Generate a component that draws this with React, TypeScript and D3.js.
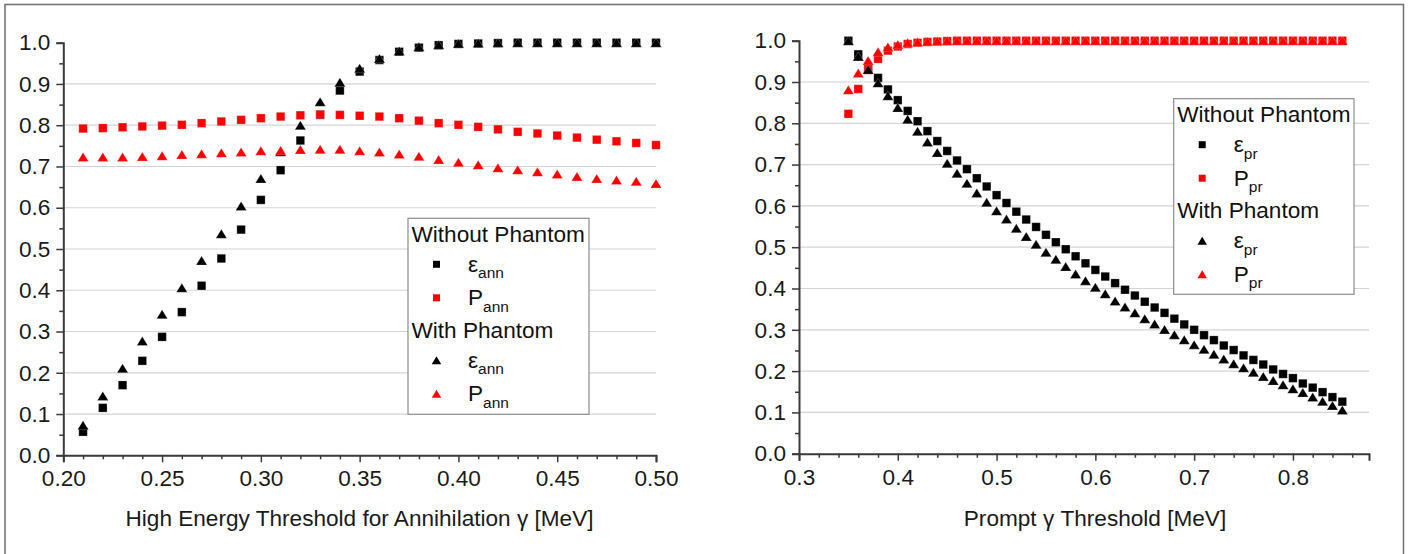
import React, { useEffect, useRef } from 'react';
import * as d3 from 'd3';

// ---- data ----
const annX = [0.21, 0.22, 0.23, 0.24, 0.25, 0.26, 0.27, 0.28, 0.29, 0.30, 0.31, 0.32, 0.33, 0.34, 0.35,
  0.36, 0.37, 0.38, 0.39, 0.40, 0.41, 0.42, 0.43, 0.44, 0.45, 0.46, 0.47, 0.48, 0.49, 0.50];
const effAnnNoPh = [0.057, 0.115, 0.170, 0.229, 0.287, 0.347, 0.411, 0.477, 0.547, 0.619, 0.691, 0.763, 0.825, 0.884, 0.930,
  0.958, 0.978, 0.988, 0.994, 0.997, 0.998, 0.999, 1.0, 1.0, 1.0, 1.0, 1.0, 1.0, 1.0, 1.0];
const purAnnNoPh = [0.792, 0.793, 0.795, 0.797, 0.799, 0.801, 0.805, 0.809, 0.813, 0.817, 0.821, 0.824, 0.826, 0.825, 0.823,
  0.821, 0.817, 0.811, 0.805, 0.801, 0.796, 0.790, 0.784, 0.780, 0.775, 0.770, 0.765, 0.761, 0.757, 0.752];
const effAnnPh = [0.073, 0.144, 0.211, 0.277, 0.342, 0.406, 0.472, 0.537, 0.604, 0.671, 0.736, 0.800, 0.857, 0.904, 0.938,
  0.962, 0.980, 0.990, 0.995, 0.998, 0.999, 1.0, 1.0, 1.0, 1.0, 1.0, 1.0, 1.0, 1.0, 1.0];
const purAnnPh = [0.723, 0.723, 0.723, 0.724, 0.726, 0.729, 0.731, 0.733, 0.735, 0.738, 0.739, 0.741, 0.742, 0.742, 0.738,
  0.735, 0.730, 0.725, 0.717, 0.710, 0.704, 0.697, 0.692, 0.687, 0.682, 0.676, 0.671, 0.667, 0.664, 0.659];

const prX = [0.35, 0.36, 0.37, 0.38, 0.39, 0.40, 0.41, 0.42, 0.43, 0.44, 0.45, 0.46, 0.47, 0.48, 0.49, 0.50, 0.51,
  0.52, 0.53, 0.54, 0.55, 0.56, 0.57, 0.58, 0.59, 0.60, 0.61, 0.62, 0.63, 0.64, 0.65, 0.66, 0.67, 0.68,
  0.69, 0.70, 0.71, 0.72, 0.73, 0.74, 0.75, 0.76, 0.77, 0.78, 0.79, 0.80, 0.81, 0.82, 0.83, 0.84, 0.85];
const effPrNoPh = [1.000, 0.967, 0.932, 0.910, 0.882, 0.856, 0.830, 0.805, 0.781, 0.757, 0.733, 0.710, 0.689, 0.667, 0.647, 0.626, 0.607,
  0.586, 0.567, 0.549, 0.530, 0.512, 0.495, 0.478, 0.461, 0.445, 0.429, 0.413, 0.397, 0.383, 0.368, 0.354, 0.341, 0.327,
  0.313, 0.300, 0.287, 0.275, 0.262, 0.251, 0.238, 0.227, 0.216, 0.204, 0.193, 0.183, 0.170, 0.160, 0.149, 0.137, 0.126];
const purPrNoPh = [0.823, 0.883, 0.929, 0.956, 0.976, 0.986, 0.992, 0.995, 0.997, 0.998, 0.999, 1.0, 1.0, 1.0, 1.0, 1.0, 1.0,
  1.0, 1.0, 1.0, 1.0, 1.0, 1.0, 1.0, 1.0, 1.0, 1.0, 1.0, 1.0, 1.0, 1.0, 1.0, 1.0, 1.0,
  1.0, 1.0, 1.0, 1.0, 1.0, 1.0, 1.0, 1.0, 1.0, 1.0, 1.0, 1.0, 1.0, 1.0, 1.0, 1.0, 1.0];
const effPrPh = [1.000, 0.962, 0.930, 0.898, 0.867, 0.838, 0.810, 0.781, 0.755, 0.729, 0.703, 0.679, 0.655, 0.631, 0.609, 0.588, 0.568,
  0.546, 0.526, 0.507, 0.488, 0.471, 0.453, 0.435, 0.419, 0.403, 0.387, 0.370, 0.355, 0.341, 0.327, 0.314, 0.301, 0.288,
  0.276, 0.264, 0.253, 0.241, 0.229, 0.218, 0.208, 0.197, 0.187, 0.177, 0.167, 0.157, 0.148, 0.137, 0.127, 0.117, 0.106];
const purPrPh = [0.881, 0.922, 0.952, 0.973, 0.985, 0.991, 0.995, 0.997, 0.998, 0.999, 1.0, 1.0, 1.0, 1.0, 1.0, 1.0, 1.0,
  1.0, 1.0, 1.0, 1.0, 1.0, 1.0, 1.0, 1.0, 1.0, 1.0, 1.0, 1.0, 1.0, 1.0, 1.0, 1.0, 1.0,
  1.0, 1.0, 1.0, 1.0, 1.0, 1.0, 1.0, 1.0, 1.0, 1.0, 1.0, 1.0, 1.0, 1.0, 1.0, 1.0, 1.0];

const yTicks = [0.0, 0.1, 0.2, 0.3, 0.4, 0.5, 0.6, 0.7, 0.8, 0.9, 1.0];
const annXTicks = [0.20, 0.25, 0.30, 0.35, 0.40, 0.45, 0.50];
const prXTicks = [0.3, 0.4, 0.5, 0.6, 0.7, 0.8];

const FONT = '"Liberation Sans", Arial, Helvetica, sans-serif';
const FS = 22.6;
const RED = '#ff0000';

const squarePath = (s: number) => `M${-s / 2},${-s / 2}h${s}v${s}h${-s}Z`;
const trianglePath = (w: number, h: number) => `M0,${-h / 2}L${w / 2},${h / 2}L${-w / 2},${h / 2}Z`;

type Panel = {
  xs: number[];
  series: { ys: number[]; color: string; shape: 'sq' | 'tri' }[];
  xDomain: [number, number];
  xRange: [number, number];
  yRange: [number, number];
  xTicks: number[];
  xMinorStep: number;
  xMinorMax: number;
  xFmt: string;
  xTitle: string;
  xTitleX: number;
  legend: { x: number; y: number; w: number; h: number; sub: string };
};

const drawPanel = (svg: d3.Selection<SVGSVGElement, unknown, null, undefined>, p: Panel) => {
  const x = d3.scaleLinear().domain(p.xDomain).range(p.xRange);
  const y = d3.scaleLinear().domain([0, 1]).range(p.yRange);
  const g = svg.append('g');

  // grid
  g.selectAll('line.grid')
    .data(yTicks.filter(t => t > 0 && t < 1))
    .enter().append('line')
    .attr('x1', p.xRange[0]).attr('x2', p.xRange[1])
    .attr('y1', d => y(d)).attr('y2', d => y(d))
    .attr('stroke', '#d4d4d4').attr('stroke-width', 1.2);

  // y axis
  const yAxis = g.append('g').attr('transform', `translate(${p.xRange[0]},0)`)
    .call(d3.axisLeft(y).tickValues(yTicks).tickFormat(d3.format('.1f')).tickSize(7).tickPadding(6));
  g.append('g').attr('transform', `translate(${p.xRange[0]},0)`)
    .call(d3.axisLeft(y).tickValues(d3.range(0.05, 1, 0.1)).tickFormat(() => '').tickSize(4))
    .select('.domain').remove();

  // x axis
  const xAxis = g.append('g').attr('transform', `translate(0,${p.yRange[0]})`)
    .call(d3.axisBottom(x).tickValues(p.xTicks).tickFormat(d3.format(p.xFmt)).tickSize(7).tickPadding(8));
  const minors = d3.range(p.xDomain[0], p.xMinorMax + 1e-9, p.xMinorStep)
    .filter(v => !p.xTicks.some(t => Math.abs(t - v) < 1e-6));
  g.append('g').attr('transform', `translate(0,${p.yRange[0]})`)
    .call(d3.axisBottom(x).tickValues(minors).tickFormat(() => '').tickSize(4))
    .select('.domain').remove();

  g.selectAll('.domain').attr('stroke', '#3a3a3a').attr('stroke-width', 2);
  g.selectAll('.tick line').attr('stroke', '#3a3a3a').attr('stroke-width', 1.5);
  [yAxis, xAxis].forEach(a => a.selectAll('text')
    .attr('font-family', FONT).attr('font-size', FS).attr('fill', '#1a1a1a'));

  // x title
  g.append('text')
    .attr('x', p.xTitleX).attr('y', 526)
    .attr('text-anchor', 'middle')
    .attr('font-family', FONT).attr('font-size', FS).attr('fill', '#1a1a1a')
    .text(p.xTitle);

  // marks
  p.series.forEach(s => {
    g.append('g').selectAll('path')
      .data(p.xs.map((xv, i) => [xv, s.ys[i]]))
      .enter().append('path')
      .attr('transform', d => `translate(${x(d[0])},${y(d[1])})`)
      .attr('d', s.shape === 'sq' ? squarePath(8.5) : trianglePath(11, 9))
      .attr('fill', s.color)
      .attr('stroke', '#ffffff').attr('stroke-width', 0.4).attr('stroke-opacity', 0.6);
  });

  // legend
  const L = p.legend;
  const lg = g.append('g').attr('transform', `translate(${L.x},${L.y})`);
  lg.append('rect').attr('width', L.w).attr('height', L.h)
    .attr('fill', '#fff').attr('stroke', '#8c8c8c').attr('stroke-width', 1.2);
  const heads = [{ t: 'Without Phantom', y: 23.5 }, { t: 'With Phantom', y: 119.7 }];
  heads.forEach(h => lg.append('text').attr('x', 3.5).attr('y', h.y)
    .attr('font-family', FONT).attr('font-size', FS).attr('fill', '#111').text(h.t));
  const rows = [
    { y: 46, shape: 'sq', color: '#000', sym: 'ε' },
    { y: 79.5, shape: 'sq', color: RED, sym: 'P' },
    { y: 142, shape: 'tri', color: '#000', sym: 'ε' },
    { y: 175.5, shape: 'tri', color: RED, sym: 'P' },
  ];
  rows.forEach(r => {
    lg.append('path').attr('transform', `translate(28.5,${r.y})`)
      .attr('d', r.shape === 'sq' ? squarePath(7) : trianglePath(9.5, 8))
      .attr('fill', r.color);
    const t = lg.append('text').attr('x', 60).attr('y', r.y + 7.5)
      .attr('font-family', FONT).attr('font-size', FS).attr('fill', '#111');
    t.append('tspan').text(r.sym);
    t.append('tspan').attr('font-size', 15.5).attr('dy', 6.5).text(L.sub);
  });
};

const App = () => {
  const svgRef = useRef<SVGSVGElement | null>(null);

  useEffect(() => {
    const svg = d3.select(svgRef.current as SVGSVGElement);
    svg.selectAll('*').remove();

    svg.append('rect').attr('width', 1411).attr('height', 554).attr('fill', '#fff');
    // outer frame (open at the bottom, as in the cropped original)
    svg.append('path')
      .attr('d', 'M5,560V4.5H1403.5V560')
      .attr('fill', 'none').attr('stroke', '#6e6e6e').attr('stroke-width', 1.5);

    drawPanel(svg, {
      xs: annX,
      series: [
        { ys: effAnnNoPh, color: '#000', shape: 'sq' },
        { ys: purAnnNoPh, color: RED, shape: 'sq' },
        { ys: effAnnPh, color: '#000', shape: 'tri' },
        { ys: purAnnPh, color: RED, shape: 'tri' },
      ],
      xDomain: [0.2, 0.5],
      xRange: [63.3, 656],
      yRange: [455.3, 42.7],
      xTicks: annXTicks,
      xMinorStep: 0.01,
      xMinorMax: 0.5,
      xFmt: '.2f',
      xTitle: 'High Energy Threshold for Annihilation γ [MeV]',
      xTitleX: 359.5,
      legend: { x: 408, y: 218.3, w: 181, h: 196, sub: 'ann' },
    });

    drawPanel(svg, {
      xs: prX,
      series: [
        { ys: effPrNoPh, color: '#000', shape: 'sq' },
        { ys: purPrNoPh, color: RED, shape: 'sq' },
        { ys: effPrPh, color: '#000', shape: 'tri' },
        { ys: purPrPh, color: RED, shape: 'tri' },
      ],
      xDomain: [0.3, 0.877],
      xRange: [799, 1369],
      yRange: [453.7, 40.7],
      xTicks: prXTicks,
      xMinorStep: 0.02,
      xMinorMax: 0.87,
      xFmt: '.1f',
      xTitle: 'Prompt γ Threshold [MeV]',
      xTitleX: 1095,
      legend: { x: 1173.7, y: 98.7, w: 180.3, h: 195.6, sub: 'pr' },
    });
  }, []);

  return (
    <svg ref={svgRef} width={1411} height={554}
      style={{ position: 'absolute', left: 0, top: 0, display: 'block' }} />
  );
};

export default App;
